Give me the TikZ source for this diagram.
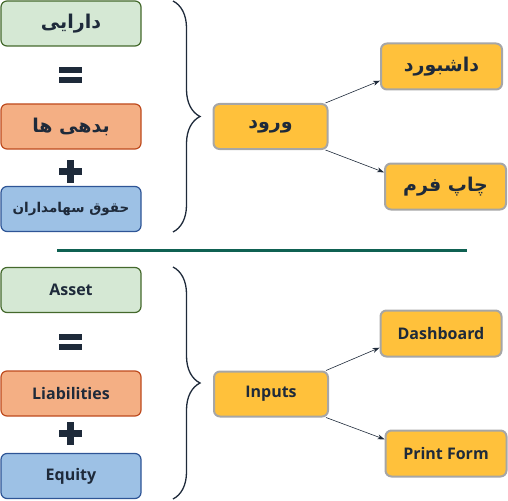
\documentclass[tikz,border=0pt]{standalone}
\usepackage{fontspec}
\setmainfont{Open Sans}
\newfontfamily\fafont[Script=Arabic]{DejaVu Sans}
\TeXXeTstate=1
\usetikzlibrary{positioning,arrows.meta,decorations.pathreplacing}

\definecolor{ink}{HTML}{1E2A3A}
\definecolor{greenfill}{HTML}{D5E8D4}
\definecolor{greenline}{HTML}{44692C}
\definecolor{orangefill}{HTML}{F4AF84}
\definecolor{orangeline}{HTML}{BE4B1E}
\definecolor{bluefill}{HTML}{9DC1E5}
\definecolor{blueline}{HTML}{2E5596}
\definecolor{yellowfill}{HTML}{FFC13B}
\definecolor{yellowline}{HTML}{A6A6A6}
\definecolor{teal}{HTML}{0F6152}

\tikzset{
    termbox/.style={rectangle, rounded corners=6pt, line width=1.2pt, minimum width=140pt, minimum height=45pt, text=ink, font=\bfseries\fontsize{16}{16}\selectfont},
    assetbox/.style={termbox, fill=greenfill, draw=greenline},
    liabbox/.style={termbox, fill=orangefill, draw=orangeline},
    equitybox/.style={termbox, fill=bluefill, draw=blueline},
    pagebox/.style={rectangle, rounded corners=6pt, line width=2pt, fill=yellowfill, draw=yellowline, minimum height=45pt, text=ink, font=\bfseries\fontsize{16}{16}\selectfont},
    link/.style={-{Stealth[length=7pt,width=5pt]}, draw=ink, line width=0.6pt},
    bracket/.style={decorate, decoration={brace, amplitude=27pt}, draw=ink, line width=1.3pt},
    fa/.style={font=\fafont\bfseries\fontsize{19}{19}\selectfont}
}

\begin{document}
\begin{tikzpicture}[x=1pt, y=-1pt]
    \useasboundingbox (0,0) rectangle (508,500);

    % Persian half
    \node (faAsset)[assetbox, fa] at (71, 23.5) {\beginR دارایی\endR};
    \node (faLiab)[liabbox, fa] at (71, 126.5) {\beginR بدهی ها\endR};
    \node (faEquity)[equitybox, fa, font=\fafont\bfseries\fontsize{13.5}{13.5}\selectfont] at (71, 209) {\beginR حقوق سهامداران\endR};

    \fill[ink] (59, 67) rectangle (82, 73);
    \fill[ink] (59, 77) rectangle (82, 83);
    \fill[ink] (59, 168) rectangle (82, 175);
    \fill[ink] (67, 160) rectangle (74, 183);

    \draw[bracket] (173, 1) -- (173, 232);

    \node (faIn)[pagebox, fa, minimum width=114pt] at (270.5, 126.5) {\beginR ورود\endR};
    \node (faDash)[pagebox, fa, minimum width=121pt, minimum height=46pt] at (441.5, 66.5) {\beginR داشبورد\endR};
    \node (faPrint)[pagebox, fa, minimum width=121pt, minimum height=46pt] at (445.5, 186.5) {\beginR چاپ فرم\endR};

    \draw[link] ([xshift=-3pt]faIn.north east) -- (faDash.193);
    \draw[link] ([xshift=-3pt]faIn.south east) -- (faPrint.167);

    % divider
    \draw[teal, line width=3pt] (57, 250) -- (467, 250);

    % English half
    \node (enAsset)[assetbox] at (71, 290) {Asset};
    \node (enLiab)[liabbox] at (71, 393.5) {Liabilities};
    \node (enEquity)[equitybox] at (71, 476) {Equity};

    \fill[ink] (59, 334) rectangle (82, 340);
    \fill[ink] (59, 344) rectangle (82, 350);
    \fill[ink] (59, 430) rectangle (82, 437);
    \fill[ink] (67, 422) rectangle (74, 445);

    \draw[bracket] (173, 267) -- (173, 499);

    \node (enIn)[pagebox, minimum width=114pt] at (271, 394) {Inputs};
    \node (enDash)[pagebox, minimum width=121pt, minimum height=46pt] at (441, 333.5) {Dashboard};
    \node (enPrint)[pagebox, minimum width=121pt, minimum height=46pt] at (446, 453.5) {Print Form};

    \draw[link] ([xshift=-3pt]enIn.north east) -- (enDash.193);
    \draw[link] ([xshift=-3pt]enIn.south east) -- (enPrint.167);
\end{tikzpicture}
\end{document}
